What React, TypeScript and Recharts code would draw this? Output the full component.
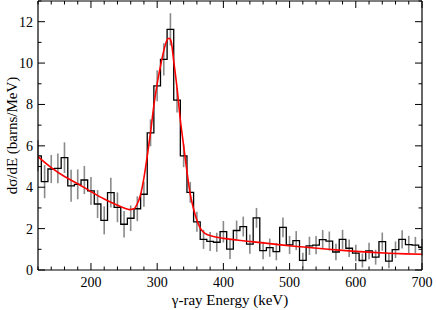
import React from "react";
import { ComposedChart, Line, Scatter, ErrorBar, XAxis, YAxis } from "recharts";

// Bin centres (keV), 10 keV wide bins
const energies = [120,130,140,150,160,170,180,190,200,210,220,230,240,250,260,270,280,290,300,310,320,330,340,350,360,370,380,390,400,410,420,430,440,450,460,470,480,490,500,510,520,530,540,550,560,570,580,590,600,610,620,630,640,650,660,670,680,690,700];
// Cross section (barns/MeV)
const sigma = [5.52,4.27,4.88,4.91,5.43,4.07,4.14,4.35,3.82,3.19,2.40,3.74,3.03,2.21,2.50,2.96,3.66,6.63,8.90,10.18,11.63,8.21,5.52,3.75,2.33,1.48,1.38,1.34,1.85,1.01,1.91,2.10,1.25,2.52,0.94,1.08,0.89,2.06,1.21,1.42,0.47,1.17,1.20,1.47,1.40,0.87,1.48,1.05,0.82,0.46,0.92,0.62,1.37,0.43,0.98,1.48,1.23,1.20,1.10];
// Statistical errors
const sigmaErr = [0.75,0.80,0.68,0.72,0.74,0.77,0.72,0.68,0.68,0.68,0.68,0.72,0.72,0.64,0.62,0.60,0.60,0.65,0.75,0.78,0.78,0.60,0.55,0.50,0.48,0.46,0.46,0.46,0.52,0.48,0.48,0.48,0.46,0.48,0.42,0.44,0.42,0.48,0.44,0.46,0.36,0.44,0.44,0.46,0.46,0.40,0.46,0.42,0.40,0.34,0.40,0.36,0.44,0.34,0.40,0.44,0.42,0.40,0.40];

// Fit curve
const fitEnergies = [120,140,160,180,200,220,240,250,258,265,270,275,280,285,290,295,300,305,310,315,318,321,325,330,335,340,345,350,355,360,365,372,385,400,420,440,460,480,500,525,550,575,600,625,650,675,700];
const fitValues = [5.48,4.95,4.52,4.17,3.79,3.43,3.13,3.0,2.92,2.96,3.2,3.65,4.45,5.5,6.65,7.95,9.0,9.85,10.6,11.12,11.2,11.05,10.1,8.8,7.25,6.0,4.75,3.65,2.95,2.4,2.02,1.77,1.62,1.53,1.45,1.38,1.31,1.24,1.17,1.10,1.03,0.96,0.90,0.85,0.81,0.78,0.76];

const xTicks = [120,140,160,180,200,220,240,260,280,300,320,340,360,380,400,420,440,460,480,500,520,540,560,580,600,620,640,660,680,700];
const xLabels = [200,300,400,500,600,700];
const yTicks = [0,1,2,3,4,5,6,7,8,9,10,11,12,13];
const yLabels = [0,2,4,6,8,10,12];

const histData = energies.map((e, i) => ({ x: e, y: sigma[i], err: sigmaErr[i] }));
const fitData = fitEnergies.map((e, i) => ({ x: e, fit: fitValues[i] }));

const FONT = "'Liberation Serif', 'Times New Roman', serif";
const AXIS_COLOR = "#000";

// tick marks pointing into the plot
const XMark = (props: any) => {
  const x = Number(props.x);
  const y = Number(props.y);
  const v = Number(props.payload.value);
  const len = v % 100 === 0 ? 7 : 3.5;
  const dir = props.side === "bottom" ? -1 : 1;
  return <line x1={x} y1={y} x2={x} y2={y + dir * len} stroke={AXIS_COLOR} strokeWidth={1} />;
};
const YMark = (props: any) => {
  const x = Number(props.x);
  const y = Number(props.y);
  const v = Number(props.payload.value);
  const len = v % 2 === 0 ? 7 : 3.5;
  const dir = props.side === "left" ? 1 : -1;
  return <line x1={x} y1={y} x2={x + dir * len} y2={y} stroke={AXIS_COLOR} strokeWidth={1} />;
};

const common = { type: "number" as const, allowDataOverflow: true, interval: 0 as const, tickSize: 0, tickMargin: 0, tickLine: false };

export default function App() {
  return (
    <div style={{ position: "absolute", left: 0, top: 0, width: 436, height: 310, background: "#fff" }}>
      <ComposedChart width={436} height={310} margin={{ top: 0, right: 13, bottom: 0, left: 0 }}>
        {/* labelled axes used by the series */}
        <XAxis {...common} xAxisId="b" dataKey="x" domain={[120, 700]} ticks={xLabels} orientation="bottom" height={39}
          axisLine={false}
          tick={{ fontFamily: FONT, fontSize: 14, fill: "#000", dy: 6 } as any}
          label={{ value: "γ-ray Energy (keV)", position: "insideBottom", offset: 5, style: { fontFamily: FONT, fontSize: 15, fill: "#000" } }}
        />
        <YAxis {...common} yAxisId="l" domain={[0, 13]} ticks={yLabels} orientation="left" width={37}
          axisLine={false}
          tickMargin={4}
          tick={{ fontFamily: FONT, fontSize: 14, fill: "#000" } as any}
          label={{ value: "dσ/dE (barns/MeV)", angle: -90, position: "insideLeft", offset: 12, style: { textAnchor: "middle", fontFamily: FONT, fontSize: 15, fill: "#000" } }}
        />
        {/* frame + tick-mark-only axes, adjacent to the plot */}
        <XAxis {...common} xAxisId="a1" dataKey="x" domain={[120, 700]} ticks={xTicks} orientation="bottom" height={1}
          axisLine={{ stroke: AXIS_COLOR, strokeWidth: 1.2 }} tick={(p: any) => <XMark {...p} side="bottom" />} />
        <YAxis {...common} yAxisId="a2" domain={[0, 13]} ticks={yTicks} orientation="left" width={1}
          axisLine={{ stroke: AXIS_COLOR, strokeWidth: 1.2 }} tick={(p: any) => <YMark {...p} side="left" />} />
        <XAxis {...common} xAxisId="t" dataKey="x" domain={[120, 700]} ticks={xTicks} orientation="top" height={1}
          axisLine={{ stroke: AXIS_COLOR, strokeWidth: 1.2 }} tick={(p: any) => <XMark {...p} side="top" />} />
        <YAxis {...common} yAxisId="r" domain={[0, 13]} ticks={yTicks} orientation="right" width={1}
          axisLine={{ stroke: AXIS_COLOR, strokeWidth: 1.2 }} tick={(p: any) => <YMark {...p} side="right" />} />
        <Scatter xAxisId="b" yAxisId="l" data={histData} dataKey="y" isAnimationActive={false} shape={() => <g />}>
          <ErrorBar dataKey="err" direction="y" width={0} stroke="#8a8a8a" strokeWidth={1.6} isAnimationActive={false} />
        </Scatter>
        <Line xAxisId="b" yAxisId="l" data={histData} dataKey="y" type="step" stroke="#000" strokeWidth={1.3} dot={false} isAnimationActive={false} />
        <Line xAxisId="b" yAxisId="l" data={fitData} dataKey="fit" type="monotone" stroke="#ff0000" strokeWidth={1.6} dot={false} isAnimationActive={false} />
      </ComposedChart>
    </div>
  );
}
